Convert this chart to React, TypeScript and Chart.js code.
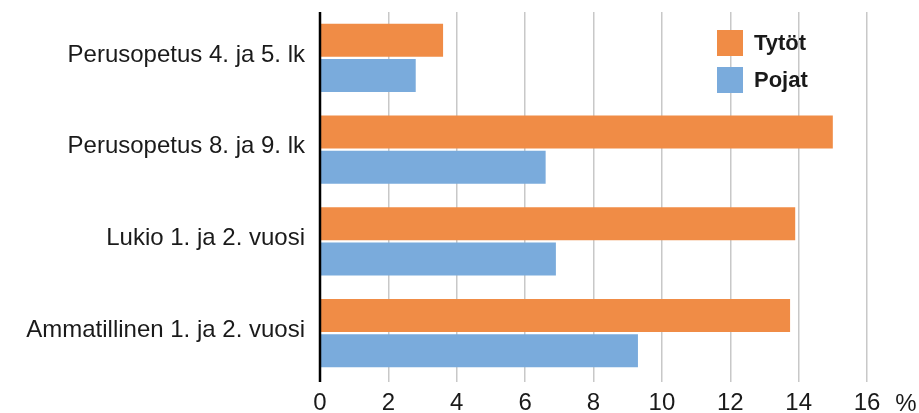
import React, { useEffect, useRef } from "react";
import { Chart, registerables } from "chart.js";

Chart.register(...registerables);

const categories = [
  "Perusopetus 4. ja 5. lk",
  "Perusopetus 8. ja 9. lk",
  "Lukio 1. ja 2. vuosi",
  "Ammatillinen 1. ja 2. vuosi",
];
const seriesNames = ["Tytöt", "Pojat"];
const girls = [3.6, 15.0, 13.9, 13.75];
const boys = [2.8, 6.6, 6.9, 9.3];
const xMin = 0;
const xMax = 16;
const xStep = 2;
const unitLabel = "%";

const ORANGE = "#F08C46";
const BLUE = "#7AABDC";
const FONT = "'Liberation Sans', Arial, sans-serif";
const TEXT = "#1a1a1a";

const axisLinePlugin = {
  id: "axisLine",
  afterDatasetsDraw(chart: any) {
    const { ctx, chartArea } = chart;
    const x = chart.scales.x.getPixelForValue(0);
    ctx.save();
    ctx.strokeStyle = "#000";
    ctx.lineWidth = 2.5;
    ctx.beginPath();
    ctx.moveTo(x, chartArea.top);
    ctx.lineTo(x, chartArea.bottom + 3);
    ctx.stroke();
    ctx.restore();
  },
};

const unitPlugin = {
  id: "unitLabel",
  afterDraw(chart: any) {
    const { ctx } = chart;
    const xs = chart.scales.x;
    const x = xs.getPixelForValue(xMax) + 39;
    const y = xs.top + 3 + 10;
    ctx.save();
    ctx.fillStyle = TEXT;
    ctx.font = `24px ${FONT}`;
    ctx.textAlign = "center";
    ctx.textBaseline = "top";
    ctx.fillText(unitLabel, x, y);
    ctx.restore();
  },
};

const legendPlugin = {
  id: "insideLegend",
  afterDraw(chart: any) {
    const { ctx } = chart;
    const left = 717;
    const top = 30;
    const box = 26;
    const pitch = 37;
    ctx.save();
    chart.data.datasets.forEach((ds: any, i: number) => {
      const y = top + i * pitch;
      ctx.fillStyle = ds.backgroundColor;
      ctx.fillRect(left, y, box, box);
      ctx.fillStyle = TEXT;
      ctx.font = `bold 22px ${FONT}`;
      ctx.textAlign = "left";
      ctx.textBaseline = "middle";
      ctx.fillText(ds.label, left + box + 11, y + box / 2 + 1);
    });
    ctx.restore();
  },
};

export default function App() {
  const ref = useRef<HTMLCanvasElement | null>(null);

  useEffect(() => {
    document.body.style.margin = "0";
    const canvas = ref.current;
    if (!canvas) return;
    const chart = new Chart(canvas, {
      type: "bar",
      data: {
        labels: categories,
        datasets: [
          {
            label: seriesNames[0],
            data: girls,
            backgroundColor: ORANGE,
            categoryPercentage: 0.77,
            barPercentage: 0.93,
          },
          {
            label: seriesNames[1],
            data: boys,
            backgroundColor: BLUE,
            categoryPercentage: 0.77,
            barPercentage: 0.93,
          },
        ],
      },
      options: {
        indexAxis: "y",
        animation: false,
        responsive: false,
        maintainAspectRatio: false,
        layout: { padding: { left: 0, right: 52, top: 12, bottom: 0 } },
        plugins: {
          legend: { display: false },
          tooltip: { enabled: false },
        },
        scales: {
          x: {
            min: xMin,
            max: xMax,
            border: { display: false },
            grid: {
              color: "#c8c8c8",
              lineWidth: 1.5,
              drawTicks: true,
              tickLength: 3,
            },
            ticks: {
              stepSize: xStep,
              color: TEXT,
              padding: 7,
              font: { family: FONT, size: 24 },
            },
            afterFit(scale: any) {
              scale.height = 34;
              scale.paddingLeft = 0;
              scale.paddingRight = 0;
            },
          },
          y: {
            border: { display: false },
            grid: { display: false, drawTicks: false },
            ticks: {
              color: TEXT,
              padding: 15,
              labelOffset: -3,
              font: { family: FONT, size: 24 },
            },
            afterFit(scale: any) {
              scale.width = 320;
              scale.paddingTop = 0;
              scale.paddingBottom = 0;
            },
          },
        },
      },
      plugins: [axisLinePlugin, unitPlugin, legendPlugin],
    } as any);
    return () => chart.destroy();
  }, []);

  return (
    <div style={{ position: "relative", width: 919, height: 413, background: "#fff" }}>
      <canvas ref={ref} width={919} height={413} style={{ display: "block" }} />
    </div>
  );
}
